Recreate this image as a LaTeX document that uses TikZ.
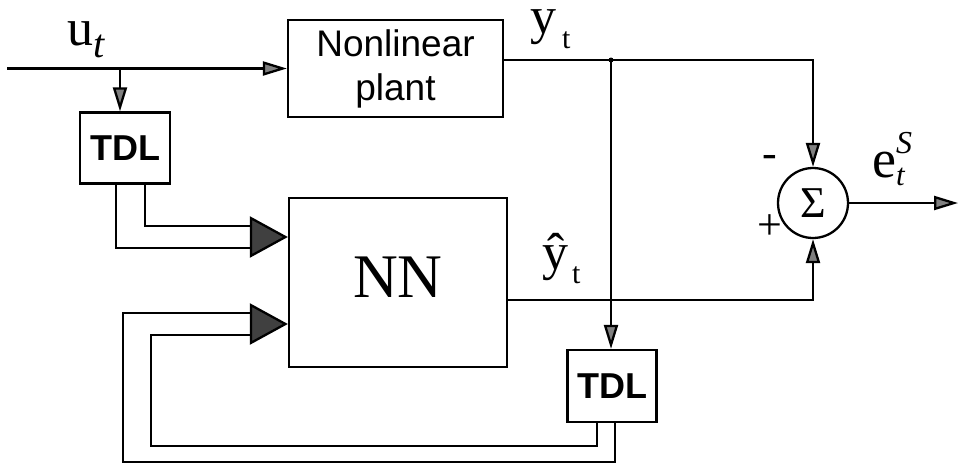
\documentclass[tikz,border=0pt]{standalone}
\usepackage{fontspec}
\setmainfont{Liberation Serif}
\setsansfont{Liberation Sans}
\usetikzlibrary{arrows.meta,calc}

\begin{document}
\begin{tikzpicture}[x=1pt,y=-1pt,
    line width=2.3pt,
    sig/.style={-{Triangle[length=24pt,width=14pt,fill=black!50]}},
    bus/.style={-{Triangle[length=38pt,width=41pt,fill=black!75]}},
    block/.style={draw, rectangle, inner sep=0pt},
    tdl/.style={block, minimum width=90pt, minimum height=71pt,
                font=\fontsize{36}{40}\selectfont\sffamily\bfseries},
    lbl/.style={inner sep=0pt, anchor=base west}]
  \useasboundingbox (0,0) rectangle (965,469);

  % blocks
  \node[block, minimum width=215pt, minimum height=97pt, align=center,
        font=\fontsize{37}{44}\selectfont\sffamily] (plant) at (395.5,68.5) {Nonlinear\\plant};
  \node[block, minimum width=218pt, minimum height=169pt, text height=42pt, text depth=13pt,
        font=\fontsize{62}{62}\selectfont] (nn) at (398,282.5) {NN};
  \node[tdl] (tdlA) at (125,148) {TDL};
  \node[tdl, minimum width=89pt, minimum height=72pt] (tdlB) at (612,386) {TDL};
  \node[draw, circle, minimum size=70pt, inner sep=0pt,
        font=\fontsize{44}{44}\selectfont] (sum) at (813,203) {Σ};

  % free ends and branch points
  \coordinate (uin) at (7,68.5);
  \coordinate (ubr) at (120,68.5);
  \coordinate (yj) at (611,60);
  \coordinate (yh) at (507,300);
  \coordinate (eout) at (958,203);
  \coordinate (busA) at (250,237);
  \coordinate (busB) at (250,324);

  % input u_t
  \draw[sig] (uin) -- (plant.west);
  \draw[sig] (ubr) -- (ubr |- tdlA.north);

  % plant output y_t
  \draw[sig] (plant.east |- yj) -| (sum.north);
  \fill (yj) circle (2.5pt);
  \draw[sig] (yj) -- (yj |- tdlB.north);

  % NN output
  \draw[sig] (yh) -| (sum.south);
  \draw[sig] (sum.east) -- (eout);

  % delayed inputs into NN
  \draw ($(tdlA.south)+(20,0)$) |- ($(busA)+(0,-11)$);
  \draw ($(tdlA.south)+(-9,0)$) |- ($(busA)+(0,11)$);
  \draw[bus] (busA) -- (busA -| nn.west);

  % delayed outputs fed back
  \draw ($(tdlB.south)+(-15,0)$) -- ++(0,23) -| ($(busB)+(-99,11)$) -- ($(busB)+(0,11)$);
  \draw ($(tdlB.south)+(3,0)$) -- ++(0,39) -| ($(busB)+(-127,-11)$) -- ($(busB)+(0,-11)$);
  \draw[bus] (busB) -- (busB -| nn.west);

  % signal labels
  \node[lbl, font=\fontsize{52}{52}\selectfont] (ulab) at (66,45)
    {u\raisebox{-12pt}{\fontsize{40}{40}\selectfont\itshape t}};
  \node[lbl, text height=24pt, font=\fontsize{52}{52}\selectfont] (ylab) at (529,33)
    {y\raisebox{-15pt}{\fontsize{30}{30}\selectfont\hspace{6pt}t}};
  \node[lbl, font=\fontsize{52}{52}\selectfont] (yhlab) at (541,269)
    {ŷ\raisebox{-14pt}{\fontsize{30}{30}\selectfont\hspace{4pt}t}};
  \node[lbl, font=\fontsize{54}{54}\selectfont] (elab) at (871,177)
    {e\rlap{\raisebox{24pt}{\fontsize{32}{32}\selectfont\itshape S}}\raisebox{-8pt}{\fontsize{31}{31}\selectfont\itshape t}};
  \node[font=\fontsize{44}{44}\selectfont, inner sep=0pt] (minus) at (770,161) {-};
  \node[font=\fontsize{44}{44}\selectfont, inner sep=0pt] (plus) at (770,227) {+};
\end{tikzpicture}
\end{document}
